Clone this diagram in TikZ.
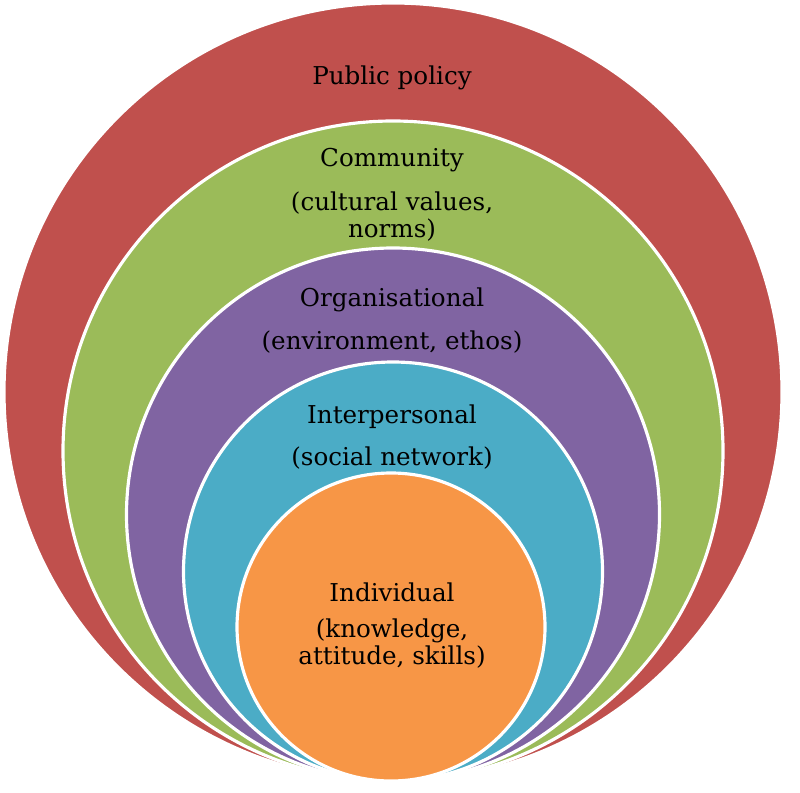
\documentclass[tikz,border=0pt]{standalone}
\usepackage{fontspec}
\setmainfont{DejaVu Serif}
\usetikzlibrary{positioning}
\definecolor{ringred}{HTML}{C0504D}
\definecolor{ringgreen}{HTML}{9BBB59}
\definecolor{ringpurple}{HTML}{8064A2}
\definecolor{ringcyan}{HTML}{4BACC6}
\definecolor{ringorange}{HTML}{F79646}

\begin{document}
\begin{tikzpicture}[x=0.02cm,y=-0.02cm,
  every node/.style={font=\fontsize{14}{15.3}\selectfont,text=black,align=center},
  ring/.style={fill=#1,draw=white,line width=1.8pt}]
  \useasboundingbox (0,0) rectangle (800,793);
  % nested levels, all touching at the bottom
  \filldraw[ring=ringred]    (393,392)   circle (389);
  \filldraw[ring=ringgreen]  (393,451)   circle (330);
  \filldraw[ring=ringpurple] (393,514.5) circle (266.5);
  \filldraw[ring=ringcyan]   (393,571.5) circle (209.5);
  \filldraw[ring=ringorange] (391,627)   circle (154);
  % labels
  \node (pol)    at (392,78)  {Public policy};
  \node (com)    at (392,160) {Community};
  \node (comsub) at (392,217) {(cultural values,\\norms)};
  \node (org)    at (392,300) {Organisational};
  \node (orgsub) at (392,342) {(environment, ethos)};
  \node (int)    at (392,417) {Interpersonal};
  \node (intsub) at (392,458) {(social network)};
  \node (ind)    at (392,592) {Individual};
  \node (indsub) at (392,644) {(knowledge,\\attitude, skills)};
\end{tikzpicture}
\end{document}
